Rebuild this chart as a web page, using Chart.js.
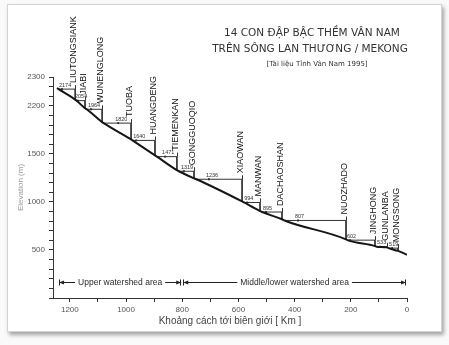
<!DOCTYPE html>
<html>
<head>
<meta charset="utf-8">
<script src="https://cdn.jsdelivr.net/npm/chart.js@4.4.0/dist/chart.umd.min.js"></script>
<style>
  html, body { margin: 0; padding: 0; background: #fafafa; }
  #wrap { position: relative; width: 449px; height: 345px; overflow: hidden; }
  #card {
    position: absolute; left: 7px; top: 4px; width: 433px; height: 326px;
    background: #fff; border: 1px solid #d4d4d4;
    box-shadow: 2px 3px 4px rgba(0, 0, 0, 0.35);
  }
  #chart { position: absolute; left: 0; top: 0; }
  .ttl {
    position: absolute; white-space: nowrap; color: #333;
    font-family: 'DejaVu Sans', sans-serif; transform: translateX(-50%);
  }
</style>
</head>
<body>
<div id="wrap">
  <div id="card"></div>
  <canvas id="chart" width="449" height="345"></canvas>
  <div class="ttl" style="left:312px; top:26px; font-size:10.5px;">14 CON ĐẬP BẬC THỀM VÂN NAM</div>
  <div class="ttl" style="left:310px; top:42px; font-size:10.5px;">TRÊN SÔNG LAN THƯƠNG / MEKONG</div>
  <div class="ttl" style="left:317px; top:60px; font-size:7px;">[Tài liệu Tỉnh Vân Nam 1995]</div>
</div>
<script>
// Lòng sông: khoảng cách tới biên giới (km) và cao độ (m)
const riverKm   = [1246, 1240, 1181, 1176, 1146, 1140, 1085, 1080, 982, 977, 897, 890, 819, 812, 758, 750, 587, 580, 523, 516, 445, 436, 217, 212, 114, 108, 71, 66, 32, 0];
const riverElev = [2185, 2174, 2065, 2054, 1975, 1964, 1830, 1820, 1650, 1640, 1485, 1471, 1330, 1319, 1245, 1236, 1005, 994, 905, 895, 820, 807, 610, 602, 540, 533, 527, 519, 490, 450];

// 14 đập bậc thang
const damNames  = ['LIUTONGSIANK', 'JIABI', 'WUNENGLONG', 'TUOBA', 'HUANGDENG', 'TIEMENKAN', 'GONGGUOQIO',
                   'XIAOWAN', 'MANWAN', 'DACHAOSHAN', 'NUOZHADO', 'JINGHONG', 'GUNLANBA', 'MONGSONG'];
const damKm     = [1181, 1146, 1085, 982, 897, 819, 758, 587, 523, 445, 217, 114, 71, 32];
const damCrest  = [2174, 2054, 1964, 1820, 1640, 1471, 1319, 1236, 994, 895, 807, 602, 533, 519];
const damBase   = [2065, 1975, 1830, 1650, 1485, 1330, 1245, 1005, 905, 820, 610, 540, 527, 490];
const damBackKm = [1240, 1176, 1140, 1080, 977, 890, 812, 750, 580, 516, 436, 212, 108, 66];
const damMarkKm = [1228, 1171, 1125, 1028, 964, 861, 794, 705, 569, 502, 388, 203, 96, 53];

// Vùng lưu vực
const regionNames  = ['Upper watershed area', 'Middle/lower watershed area'];
const regionFromKm = [1242, 800];
const regionToKm   = [800, 0];

// Nhãn trục tung
const yTickValues = [500, 1000, 1500, 2000, 2300];
const yTickLabels = ['500', '1000', '1500', '2200', '2300'];

Chart.defaults.font.family = "'Liberation Sans', Arial, sans-serif";

const datasets = [];

// đường lòng sông
datasets.push({
  data: riverKm.map((k, i) => ({ x: k, y: riverElev[i] })),
  borderColor: '#151515',
  borderWidth: 2,
  pointRadius: 0,
  cubicInterpolationMode: 'monotone'
});

// mực nước dâng + thân đập
damNames.forEach((name, i) => {
  datasets.push({
    data: [
      { x: damBackKm[i], y: damCrest[i] },
      { x: damKm[i], y: damCrest[i] },
      { x: damKm[i], y: damBase[i] }
    ],
    borderColor: '#333',
    borderWidth: 1,
    pointRadius: 0,
    tension: 0
  });
});

// chấm nhỏ dưới số cao độ
datasets.push({
  data: damMarkKm.map((k, i) => ({ x: k, y: damCrest[i] })),
  showLine: false,
  pointStyle: 'rect',
  pointRadius: 1.3,
  backgroundColor: '#222',
  borderWidth: 0
});

const damLabels = {
  id: 'damLabels',
  afterDatasetsDraw(chart) {
    const { ctx, chartArea } = chart;
    const xs = chart.scales.x, ys = chart.scales.y;
    ctx.save();

    damNames.forEach((name, i) => {
      const x = xs.getPixelForValue(damKm[i]);
      const y = ys.getPixelForValue(damCrest[i]);
      // gạch nối lên tên đập
      ctx.strokeStyle = '#333';
      ctx.lineWidth = 1;
      ctx.beginPath();
      ctx.moveTo(Math.round(x) + 0.5, y);
      ctx.lineTo(Math.round(x) + 0.5, y - 4);
      ctx.stroke();

      // tên đập, viết dọc
      ctx.save();
      ctx.translate(x - 1.5, y - 6);
      ctx.rotate(-Math.PI / 2);
      ctx.fillStyle = '#141414';
      ctx.font = "9px 'Liberation Sans', Arial, sans-serif";
      ctx.textAlign = 'left';
      ctx.textBaseline = 'middle';
      ctx.fillText(name, 0, 0);
      ctx.restore();

      // số cao độ
      const mx = xs.getPixelForValue(damMarkKm[i]);
      ctx.fillStyle = '#333';
      ctx.font = "5.5px 'Liberation Sans', Arial, sans-serif";
      ctx.textAlign = 'left';
      ctx.textBaseline = 'alphabetic';
      ctx.fillText(String(damCrest[i]), mx - 3, y - 2.5);
    });

    // mũi tên vùng lưu vực
    const ay = chartArea.bottom - 15.5;
    ctx.font = "8.5px 'Liberation Sans', Arial, sans-serif";
    ctx.textBaseline = 'middle';
    ctx.textAlign = 'center';
    regionNames.forEach((name, i) => {
      const x1 = xs.getPixelForValue(regionFromKm[i]) + 1;
      const x2 = xs.getPixelForValue(regionToKm[i]) - 1;
      const xm = (x1 + x2) / 2;
      const w = ctx.measureText(name).width;
      ctx.strokeStyle = '#222';
      ctx.fillStyle = '#222';
      ctx.lineWidth = 1;
      ctx.beginPath();
      ctx.moveTo(x1, ay); ctx.lineTo(xm - w / 2 - 3, ay);
      ctx.moveTo(xm + w / 2 + 3, ay); ctx.lineTo(x2, ay);
      ctx.moveTo(Math.round(x1) + 0.5, ay - 3); ctx.lineTo(Math.round(x1) + 0.5, ay + 3);
      ctx.moveTo(Math.round(x2) - 0.5, ay - 3); ctx.lineTo(Math.round(x2) - 0.5, ay + 3);
      ctx.stroke();
      ctx.beginPath();
      ctx.moveTo(x1, ay); ctx.lineTo(x1 + 5, ay - 2); ctx.lineTo(x1 + 5, ay + 2); ctx.closePath();
      ctx.moveTo(x2, ay); ctx.lineTo(x2 - 5, ay - 2); ctx.lineTo(x2 - 5, ay + 2); ctx.closePath();
      ctx.fill();
      ctx.fillStyle = '#2a2a2a';
      ctx.fillText(name, xm, ay);
    });

    ctx.restore();
  }
};

new Chart(document.getElementById('chart'), {
  type: 'line',
  data: { datasets },
  options: {
    responsive: false,
    animation: false,
    layout: { padding: { left: 0, top: 77, right: 42, bottom: 0 } },
    plugins: { legend: { display: false }, tooltip: { enabled: false } },
    scales: {
      x: {
        type: 'linear',
        reverse: true,
        min: 0,
        max: 1260,
        afterFit(s) { s.height = 47; },
        ticks: {
          stepSize: 100,
          includeBounds: false,
          autoSkip: false,
          maxRotation: 0,
          padding: 3,
          color: '#555',
          font: { size: 8 },
          callback: v => (v % 200 === 0 ? String(v) : '')
        },
        grid: { drawOnChartArea: false, tickLength: 4, color: '#333' },
        border: { color: '#333', width: 1 },
        title: {
          display: true,
          text: 'Khoảng cách tới biên giới [ Km ]',
          color: '#444',
          font: { size: 10 },
          padding: { top: 0, bottom: 18 }
        }
      },
      y: {
        min: 0,
        max: 2300,
        afterFit(s) { s.width = 53; },
        ticks: {
          stepSize: 100,
          autoSkip: false,
          padding: 4,
          color: '#555',
          font: { size: 8 },
          callback: v => {
            const k = yTickValues.indexOf(v);
            return k >= 0 ? yTickLabels[k] : '';
          }
        },
        grid: { drawOnChartArea: false, tickLength: 4, color: '#333' },
        border: { color: '#333', width: 1 },
        title: {
          display: true,
          text: 'Elevation (m)',
          color: '#9a9a9a',
          font: { size: 8 },
          padding: { top: 16, bottom: 0 }
        }
      }
    }
  },
  plugins: [damLabels]
});
</script>
</body>
</html>
